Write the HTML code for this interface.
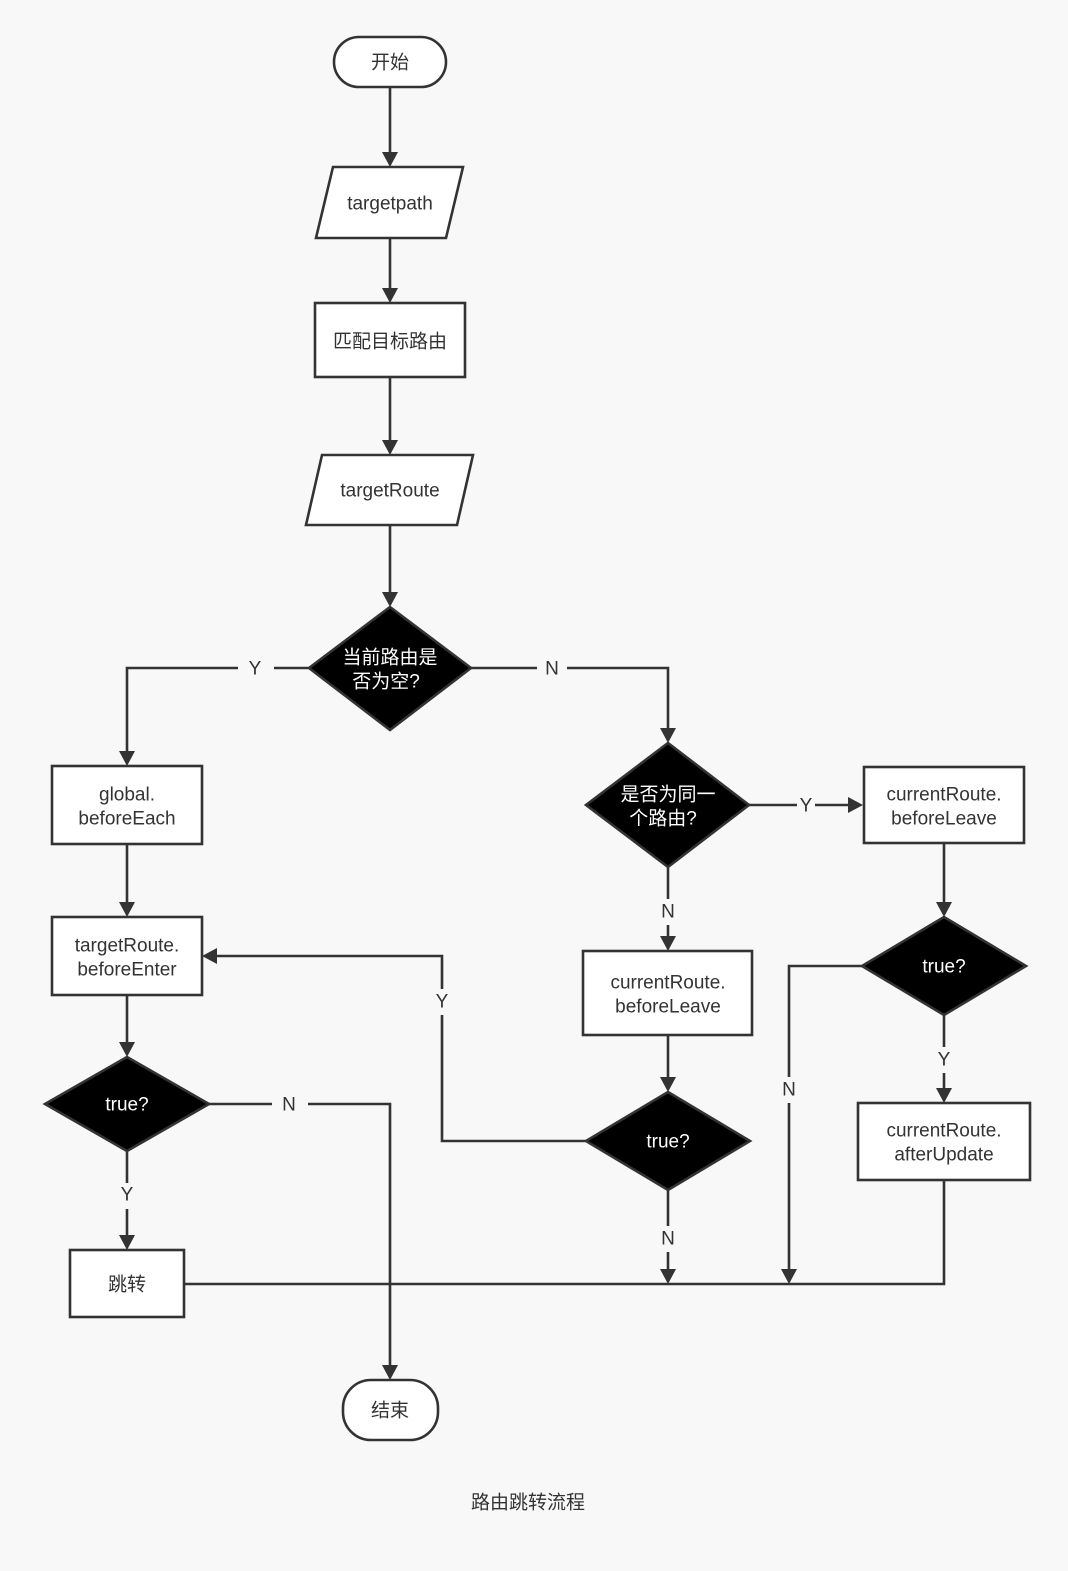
<!DOCTYPE html>
<html><head><meta charset="utf-8"><style>
html,body{margin:0;padding:0;background:#f8f8f8;}
svg{display:block;}
text{font-family:"Liberation Sans","Noto Sans CJK SC",sans-serif;font-size:19px;fill:#333;text-anchor:middle;dominant-baseline:central;}
.w{fill:#fff;}
.lb{fill:#f8f8f8;}
</style></head><body>
<svg width="1068" height="1571" viewBox="0 0 1068 1571">
<defs><marker id="a" markerWidth="10" markerHeight="10" refX="9" refY="5" orient="auto" markerUnits="userSpaceOnUse"><path d="M0,0 L0,0" /></marker></defs>
<rect width="1068" height="1571" fill="#f8f8f8"/>
<g stroke="#333" stroke-width="2.6" fill="none">
<!-- main lines -->
<path d="M390 87V152"/><path d="M390 238V288"/><path d="M390 377V440"/><path d="M390 525V592"/>
<path d="M309 668H127V751"/><path d="M471 668H668V728"/>
<path d="M127 844V902"/><path d="M127 995V1042"/>
<path d="M209 1104H390V1365"/><path d="M127 1151V1235"/>
<path d="M184 1284H944V1180"/>
<path d="M749 805H848"/><path d="M944 843V902"/>
<path d="M862 966H789V1269"/><path d="M944 1015V1088"/>
<path d="M668 867V936"/><path d="M668 1035V1077"/>
<path d="M586 1141H442V956H217"/><path d="M668 1190V1269"/>
</g>
<g fill="#333">
<path d="M382 152H398L390 167Z"/><path d="M382 288H398L390 303Z"/><path d="M382 440H398L390 455Z"/><path d="M382 592H398L390 607Z"/>
<path d="M119 751H135L127 766Z"/><path d="M660 728H676L668 743Z"/>
<path d="M119 902H135L127 917Z"/><path d="M119 1042H135L127 1057Z"/>
<path d="M382 1365H398L390 1380Z"/><path d="M119 1235H135L127 1250Z"/>
<path d="M848 797V813L863 805Z"/><path d="M936 902H952L944 917Z"/>
<path d="M781 1269H797L789 1284Z"/><path d="M936 1088H952L944 1103Z"/>
<path d="M660 936H676L668 951Z"/><path d="M660 1077H676L668 1092Z"/>
<path d="M217 948V964L202 956Z"/><path d="M660 1269H676L668 1284Z"/>
</g>
<!-- shapes -->
<g stroke="#333" stroke-width="2.6">
<rect x="334" y="37" width="112" height="50" rx="25" fill="#fff"/>
<path d="M333 167H463L446 238H316Z" fill="#fff"/>
<rect x="315" y="303" width="150" height="74" fill="#fff"/>
<path d="M322 455H473L457 525H306Z" fill="#fff"/>
<path d="M390 607L471 668L390 730L309 668Z" fill="#000"/>
<rect x="52" y="766" width="150" height="78" fill="#fff"/>
<rect x="52" y="917" width="150" height="78" fill="#fff"/>
<path d="M127 1057L209 1104L127 1151L45 1104Z" fill="#000"/>
<rect x="70" y="1250" width="114" height="67" fill="#fff"/>
<rect x="343" y="1380" width="95" height="60" rx="28" fill="#fff"/>
<path d="M668 743L749 805L668 867L586 805Z" fill="#000"/>
<rect x="864" y="767" width="160" height="76" fill="#fff"/>
<path d="M944 917L1026 966L944 1015L862 966Z" fill="#000"/>
<rect x="858" y="1103" width="172" height="77" fill="#fff"/>
<rect x="583" y="951" width="169" height="84" fill="#fff"/>
<path d="M668 1092L750 1141L668 1190L586 1141Z" fill="#000"/>
</g>
<!-- label backgrounds -->
<g fill="#f8f8f8">
<rect x="238" y="656" width="36" height="26"/><rect x="537" y="656" width="30" height="26"/>
<rect x="272" y="1092" width="36" height="26"/><rect x="118" y="1183" width="18" height="26"/>
<rect x="797" y="793" width="18" height="26"/><rect x="935" y="1047" width="18" height="26"/>
<rect x="780" y="1077" width="18" height="26"/><rect x="659" y="899" width="18" height="26"/>
<rect x="433" y="989" width="18" height="26"/><rect x="659" y="1226" width="18" height="26"/>
</g>
<text x="390" y="63">开始</text>
<text x="390" y="204">targetpath</text>
<text x="390" y="342">匹配目标路由</text>
<text x="390" y="491">targetRoute</text>
<text class="w" x="390" y="658">当前路由是</text><text class="w" x="386" y="682">否为空?</text>
<text x="255" y="669">Y</text><text x="552" y="669">N</text>
<text x="127" y="795">global.</text><text x="127" y="819">beforeEach</text>
<text x="127" y="946">targetRoute.</text><text x="127" y="970">beforeEnter</text>
<text class="w" x="127" y="1105">true?</text>
<text x="289" y="1105">N</text><text x="127" y="1195">Y</text>
<text x="127" y="1285">跳转</text>
<text x="390" y="1411">结束</text>
<text class="w" x="668" y="795">是否为同一</text><text class="w" x="663" y="819">个路由?</text>
<text x="806" y="806">Y</text>
<text x="944" y="795">currentRoute.</text><text x="944" y="819">beforeLeave</text>
<text class="w" x="944" y="967">true?</text>
<text x="944" y="1060">Y</text><text x="789" y="1090">N</text>
<text x="944" y="1131">currentRoute.</text><text x="944" y="1155">afterUpdate</text>
<text x="668" y="912">N</text>
<text x="668" y="983">currentRoute.</text><text x="668" y="1007">beforeLeave</text>
<text class="w" x="668" y="1142">true?</text>
<text x="442" y="1002">Y</text><text x="668" y="1239">N</text>
<text x="528" y="1503">路由跳转流程</text>
</svg>
</body></html>
